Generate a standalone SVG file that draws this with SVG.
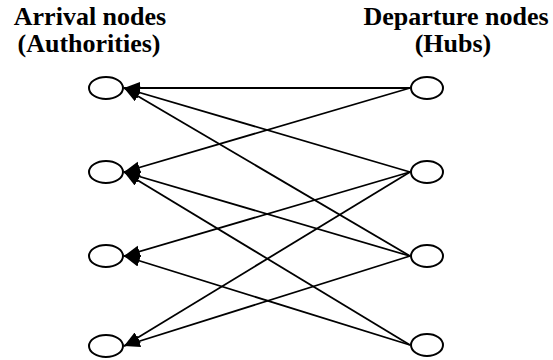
<svg xmlns="http://www.w3.org/2000/svg" width="553" height="360" viewBox="0 0 553 360">
<style>
.t{font-family:"Liberation Serif","Times New Roman",serif;font-weight:bold;font-size:26px;fill:#000;text-anchor:middle}
.n{fill:#fff;stroke:#000;stroke-width:2}
.c line{stroke:#000;stroke-width:1.8;marker-end:url(#ah)}
</style>
<defs>
<marker id="ah" markerUnits="userSpaceOnUse" markerWidth="18" markerHeight="14" refX="16" refY="6" orient="auto">
<path d="M0,0 L16,6 L0,12 z" fill="#000"/>
</marker>
</defs>
<rect width="553" height="360" fill="#fff"/>
<text class="t" x="90" y="25">Arrival nodes</text>
<text class="t" x="89" y="52">(Authorities)</text>
<text class="t" x="456" y="25">Departure nodes</text>
<text class="t" x="453" y="52">(Hubs)</text>
<g id="connectors" class="c">
<line x1="410" y1="88" x2="124" y2="88"/>
<line x1="410" y1="88" x2="124" y2="172"/>
<line x1="410" y1="172" x2="124" y2="88"/>
<line x1="410" y1="172" x2="124" y2="256"/>
<line x1="410" y1="172" x2="124" y2="346"/>
<line x1="410" y1="256" x2="124" y2="88"/>
<line x1="410" y1="256" x2="124" y2="172"/>
<line x1="410" y1="256" x2="124" y2="346"/>
<line x1="410" y1="345" x2="124" y2="172"/>
<line x1="410" y1="345" x2="124" y2="256"/>
</g>
<g id="A1"><ellipse class="n" cx="106" cy="88" rx="17" ry="11"/></g>
<g id="A2"><ellipse class="n" cx="106" cy="172" rx="17" ry="11"/></g>
<g id="A3"><ellipse class="n" cx="106" cy="256" rx="17" ry="11"/></g>
<g id="A4"><ellipse class="n" cx="106" cy="346" rx="17" ry="11"/></g>
<g id="H1"><ellipse class="n" cx="427" cy="88" rx="16" ry="11"/></g>
<g id="H2"><ellipse class="n" cx="427" cy="172" rx="16" ry="11"/></g>
<g id="H3"><ellipse class="n" cx="427" cy="256" rx="16" ry="11"/></g>
<g id="H4"><ellipse class="n" cx="427" cy="345" rx="16" ry="11"/></g>
</svg>
